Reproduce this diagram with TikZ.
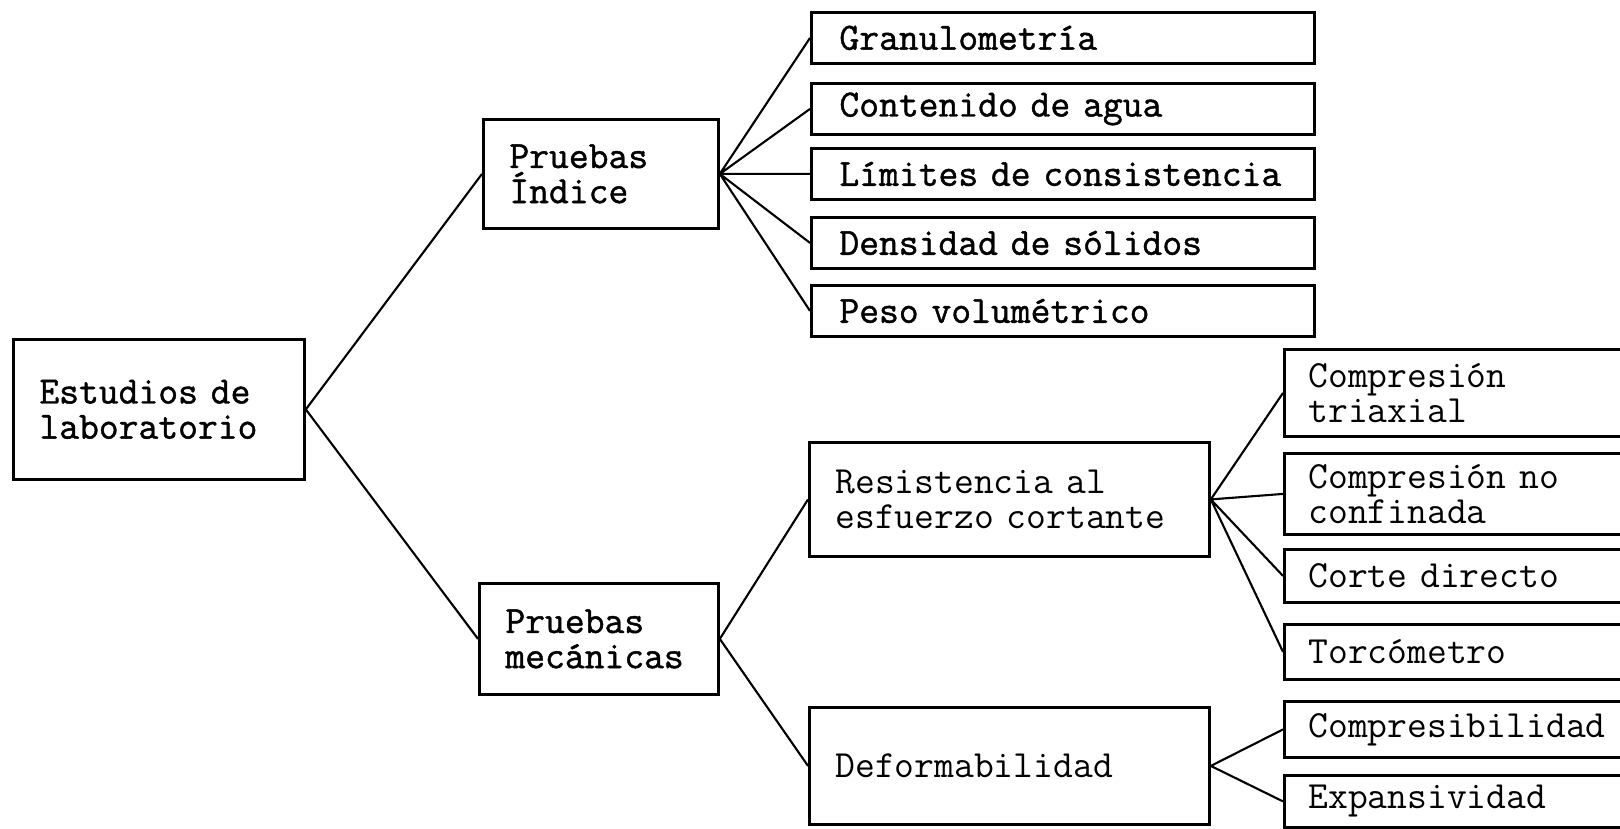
\documentclass[tikz,border=0pt]{standalone}
\usepackage{fontspec}
\newfontfamily\darktt[FakeBold=1.2]{Latin Modern Mono}
\newfontfamily\lighttt{Latin Modern Mono}
\usetikzlibrary{positioning,calc}
\tikzset{
  boxbase/.style={draw, line width=1.6pt, anchor=north west, align=left, inner ysep=0pt,
                  font=\lighttt\fontsize{21.9}{20}\selectfont},
  groupbox/.style={boxbase, inner xsep=0.52cm},
  heavy/.style={font=\darktt\fontsize{21.9}{20}\selectfont},
  testbox/.style={boxbase, heavy, inner xsep=0.56cm, text width=8.94cm, minimum height=1.02cm},
  subbox/.style={boxbase, inner xsep=0.48cm, text width=6.64cm},
  link/.style={line width=1.2pt}
}
\begin{document}
\begin{tikzpicture}[]
\path[use as bounding box, clip] (0,0) rectangle (32.4,-16.56);
\node[groupbox, heavy, text width=4.78cm, minimum height=2.8cm] (lab) at (0.24,-6.76) {Estudios de\\laboratorio};
\node[groupbox, heavy, text width=3.66cm, minimum height=2.18cm] (ind) at (9.64,-2.36) {Pruebas\\Índice};
\node[groupbox, heavy, text width=3.74cm, minimum height=2.22cm] (mec) at (9.56,-11.64) {Pruebas\\mecánicas};
\node[groupbox, text width=6.96cm, minimum height=2.28cm] (res) at (16.16,-8.82) {Resistencia al\\esfuerzo cortante};
\node[groupbox, text width=6.96cm, minimum height=2.34cm] (def) at (16.16,-14.12) {Deformabilidad};
\node[testbox] (gran) at (16.2,-0.22) {Granulometría};
\node[testbox] (agua) at (16.2,-1.64) {Contenido de agua};
\node[testbox] (lim) at (16.2,-2.94) {\mbox{Límites de consistencia}};
\node[testbox] (dens) at (16.2,-4.32) {Densidad de sólidos};
\node[testbox] (peso) at (16.2,-5.68) {Peso volumétrico};
\node[subbox, minimum height=1.74cm] (tri) at (25.66,-6.96) {Compresión\\triaxial};
\node[subbox, minimum height=1.62cm] (noc) at (25.66,-9.04) {Compresión no\\confinada};
\node[subbox, minimum height=1.06cm] (cor) at (25.66,-10.96) {Corte directo};
\node[subbox, minimum height=1.1cm] (tor) at (25.66,-12.46) {Torcómetro};
\node[subbox, minimum height=1.12cm] (cpr) at (25.66,-14.0) {Compresibilidad};
\node[subbox, minimum height=1.04cm] (exp) at (25.66,-15.48) {Expansividad};
\draw[link] (lab.east) -- (ind.west) (lab.east) -- (mec.west);
\draw[link] (ind.east) -- (gran.west) (ind.east) -- (agua.west) (ind.east) -- (lim.west)
            (ind.east) -- (dens.west) (ind.east) -- (peso.west);
\draw[link] (mec.east) -- (res.west) (mec.east) -- (def.west);
\draw[link] (res.east) -- (tri.west) (res.east) -- (noc.west) (res.east) -- (cor.west) (res.east) -- (tor.west);
\draw[link] (def.east) -- (cpr.west) (def.east) -- (exp.west);
\end{tikzpicture}
\end{document}
